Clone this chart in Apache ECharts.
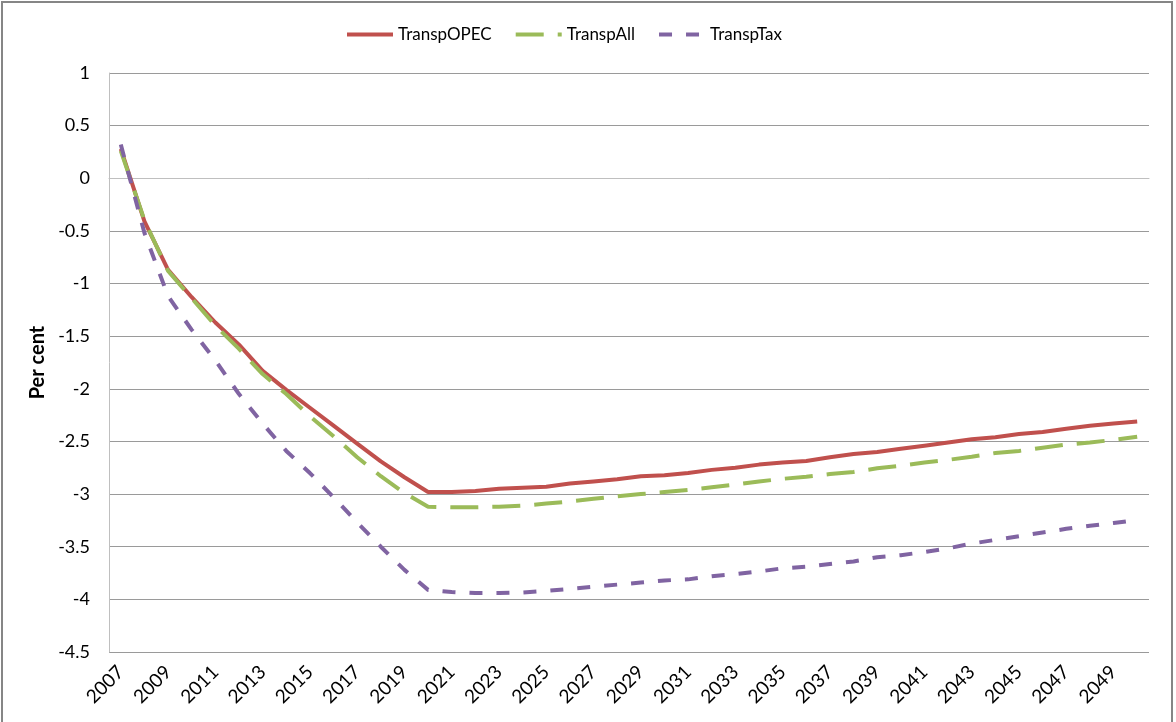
<!DOCTYPE html>
<html>
<head>
<meta charset="utf-8">
<script src="https://cdn.jsdelivr.net/npm/echarts@6/dist/echarts.min.js"></script>
<style>
  html, body { margin: 0; padding: 0; background: #fff; overflow: hidden; }
  #frame {
    position: absolute; left: 1px; top: 1px;
    width: 1168px; height: 760px;
    border: 2px solid #868686;
  }
  #chart { position: absolute; left: 0; top: 0; width: 1176px; height: 722px; }
</style>
</head>
<body>
<div id="frame"></div>
<div id="chart"></div>
<script>
// years on the category axis
const YEARS = [];
for (let y = 2007; y <= 2050; y++) YEARS.push(String(y));

// per cent
const TRANSP_OPEC = [
  0.28, -0.41, -0.87, -1.13, -1.37, -1.58, -1.83, -2.01, -2.18, -2.35, -2.52, -2.69, -2.84, -2.98,
  -2.98, -2.97, -2.95, -2.94, -2.93, -2.90, -2.88, -2.86, -2.83, -2.82, -2.80, -2.77, -2.75, -2.72, -2.70,
  -2.685, -2.65, -2.62, -2.60, -2.57, -2.54, -2.51, -2.48, -2.46, -2.43, -2.41, -2.38, -2.35, -2.33, -2.31
];
const TRANSP_ALL = [
  0.26, -0.40, -0.88, -1.14, -1.40, -1.62, -1.86, -2.05, -2.26, -2.45, -2.65, -2.83, -2.99, -3.12,
  -3.125, -3.125, -3.12, -3.11, -3.09, -3.07, -3.045, -3.02, -3.00, -2.98, -2.96, -2.935, -2.91, -2.88, -2.855,
  -2.835, -2.81, -2.79, -2.755, -2.73, -2.70, -2.675, -2.645, -2.61, -2.59, -2.56, -2.53, -2.51, -2.485, -2.455
];
const TRANSP_TAX = [
  0.32, -0.52, -1.12, -1.44, -1.73, -2.05, -2.33, -2.59, -2.80, -3.03, -3.27, -3.50, -3.72, -3.91,
  -3.93, -3.94, -3.94, -3.935, -3.92, -3.90, -3.88, -3.86, -3.84, -3.82, -3.81, -3.78, -3.76, -3.735, -3.705,
  -3.69, -3.665, -3.64, -3.60, -3.58, -3.55, -3.515, -3.47, -3.435, -3.40, -3.365, -3.33, -3.30, -3.275, -3.245
];

const FONT = 'Lato, "Open Sans", sans-serif';

const chart = echarts.init(document.getElementById('chart'));

function lineSeries(name, data, color, type) {
  return {
    name: name,
    type: 'line',
    data: data,
    symbol: 'none',
    smooth: false,
    lineStyle: { color: color, width: 4, type: type },
    itemStyle: { color: color }
  };
}

chart.setOption({
  animation: false,
  textStyle: { fontFamily: FONT },
  grid: { left: 109, right: 27, top: 73, bottom: 70, outerBoundsMode: 'none' },
  legend: {
    left: 340,
    top: 21,
    itemWidth: 46,
    itemHeight: 20,
    itemGap: 22,
    itemStyle: { opacity: 0 },
    lineStyle: { width: 4 },
    textStyle: { fontFamily: FONT, fontSize: 17, color: '#000' },
    data: ['TranspOPEC', 'TranspAll', 'TranspTax']
  },
  xAxis: {
    type: 'category',
    data: YEARS,
    boundaryGap: true,
    axisLine: { lineStyle: { color: '#BFBFBF', width: 1 } },
    axisTick: { show: false },
    axisLabel: {
      interval: 1,
      rotate: 45,
      margin: 17,
      fontFamily: FONT,
      fontSize: 19,
      color: '#000'
    },
    splitLine: { show: false }
  },
  yAxis: {
    type: 'value',
    min: -4.5,
    max: 1,
    interval: 0.5,
    name: 'Per cent',
    nameLocation: 'middle',
    nameGap: 53,
    nameTextStyle: { fontFamily: FONT, fontSize: 20, fontWeight: 'bold', color: '#000' },
    axisLine: { show: true, lineStyle: { color: '#BFBFBF', width: 1 } },
    axisTick: { show: false },
    axisLabel: { fontFamily: FONT, fontSize: 18, color: '#000', margin: 19 },
    splitLine: { lineStyle: { color: '#9A9A9A', width: 1 } }
  },
  series: [
    lineSeries('TranspOPEC', TRANSP_OPEC, '#C0504D', 'solid'),
    lineSeries('TranspAll', TRANSP_ALL, '#9BBB59', [28, 14]),
    lineSeries('TranspTax', TRANSP_TAX, '#8064A2', [13, 14])
  ]
});
</script>
</body>
</html>
